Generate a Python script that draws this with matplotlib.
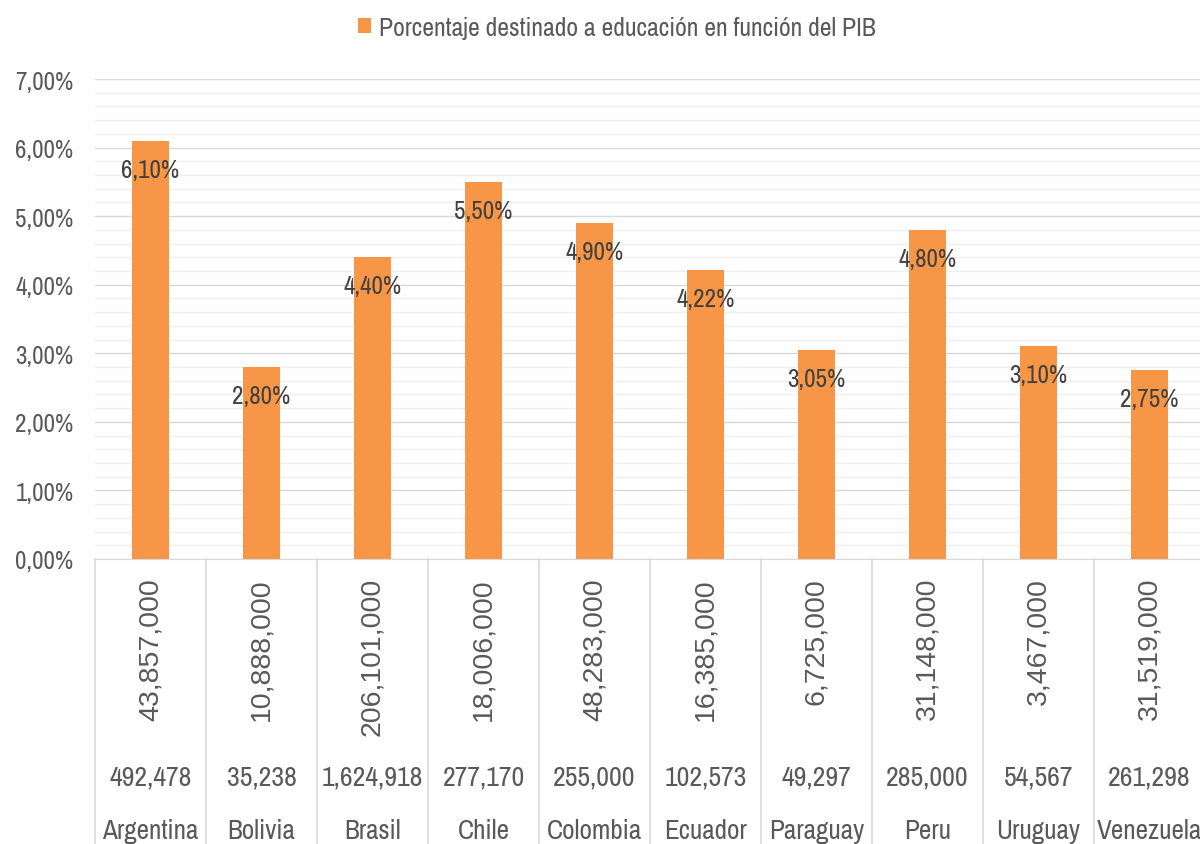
import matplotlib
matplotlib.use("Agg")
import matplotlib.pyplot as plt
from matplotlib.patches import Patch
from matplotlib.ticker import MultipleLocator, FuncFormatter
import matplotlib.transforms as mtransforms

countries = ["Argentina", "Bolivia", "Brasil", "Chile", "Colombia", "Ecuador",
             "Paraguay", "Peru", "Uruguay", "Venezuela"]
population = ["43,857,000", "10,888,000", "206,101,000", "18,006,000", "48,283,000",
              "16,385,000", "6,725,000", "31,148,000", "3,467,000", "31,519,000"]
pib = ["492,478", "35,238", "1,624,918", "277,170", "255,000", "102,573",
       "49,297", "285,000", "54,567", "261,298"]
edu_pct = [6.10, 2.80, 4.40, 5.50, 4.90, 4.22, 3.05, 4.80, 3.10, 2.75]
series_name = "Porcentaje destinado a educación en función del PIB"

NARROW = ["Archivo Narrow", "Liberation Sans", "DejaVu Sans"]
REG = ["Liberation Sans", "DejaVu Sans"]
ORANGE = "#F79646"
GRAY = "#595959"

def es_pct(v, pos=None):
    return f"{v:.2f}%".replace(".", ",")

fig = plt.figure(figsize=(12, 8.45), dpi=100)
W, H = 1200, 845
x0, x1 = 95, 1205
y0, y7 = 560, 80
ax = fig.add_axes([x0 / W, 1 - y0 / H, (x1 - x0) / W, (y0 - y7) / H])

xs = list(range(len(countries)))
bars = ax.bar(xs, edu_pct, width=0.34, color=ORANGE, zorder=3)

ax.set_xlim(-0.5, len(countries) - 0.5)
ax.set_ylim(0, 7)
ax.yaxis.set_major_locator(MultipleLocator(1))
ax.yaxis.set_minor_locator(MultipleLocator(0.2))
ax.yaxis.set_major_formatter(FuncFormatter(es_pct))
ax.grid(axis="y", which="major", color="#D9D9D9", lw=1.0, zorder=0)
ax.grid(axis="y", which="minor", color="#EFEFEF", lw=1.0, zorder=0)
ax.tick_params(axis="y", which="both", length=0, pad=15.5, labelcolor=GRAY)
for lab in ax.get_yticklabels():
    lab.set_fontfamily(NARROW)
    lab.set_fontsize(18)
ax.set_xticks([])
for s in ["top", "right", "left"]:
    ax.spines[s].set_visible(False)
ax.spines["bottom"].set_color("#D9D9D9")
ax.spines["bottom"].set_zorder(4)

# data labels
for x, v in zip(xs, edu_pct):
    ax.annotate(es_pct(v), xy=(x, v), xytext=(0, -20.5), textcoords="offset points",
                ha="center", va="center", fontsize=18, color="#404040",
                family=NARROW, zorder=5)

# multi-level category axis
ph = y0 - y7
trans = mtransforms.blended_transform_factory(ax.transData, ax.transAxes)
bottom_ax = -(H - y0) / ph
for b in [i - 0.5 for i in range(len(countries) + 1)]:
    ax.plot([b, b], [0, bottom_ax], transform=trans, color="#D9D9D9", lw=1.2,
            clip_on=False, zorder=2)

for x, p, g, c in zip(xs, population, pib, countries):
    ax.text(x, -(578 - y0) / ph, p, transform=trans, rotation=90, ha="center", va="top",
            fontsize=20.5, color=GRAY, family=REG)
    ax.text(x, -(778 - y0) / ph, g, transform=trans, ha="center", va="center",
            fontsize=20, color=GRAY, family=NARROW)
    ax.text(x, -(832 - y0) / ph, c, transform=trans, ha="center", va="center",
            fontsize=19.5, color=GRAY, family=NARROW)

leg = fig.legend(handles=[Patch(facecolor=ORANGE, edgecolor="none")], labels=[series_name],
                 loc="center", bbox_to_anchor=(617 / W, 1 - 28 / H), frameon=False,
                 handlelength=0.5, handleheight=0.5, handletextpad=0.3,
                 prop={"family": NARROW, "size": 18.5})
for t in leg.get_texts():
    t.set_color(GRAY)

fig.savefig("out.png", dpi=100)
